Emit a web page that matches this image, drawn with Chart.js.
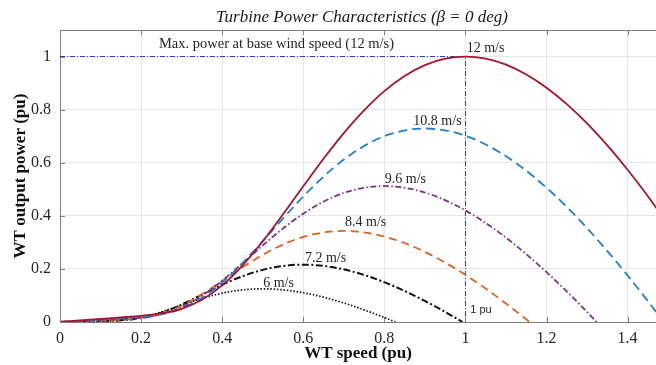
<!DOCTYPE html>
<html>
<head>
<meta charset="utf-8">
<script src="https://cdn.jsdelivr.net/npm/chart.js@4.4.0/dist/chart.umd.min.js"></script>
<style>
  html, body { margin: 0; padding: 0; background: #fff; }
</style>
</head>
<body>
<canvas id="chart" width="656" height="365"></canvas>
<script>
var xTickValues = [0, 0.2, 0.4, 0.6, 0.8, 1, 1.2, 1.4];
var yTickValues = [0, 0.2, 0.4, 0.6, 0.8, 1];

var speedNames = ['12 m/s', '10.8 m/s', '9.6 m/s', '8.4 m/s', '7.2 m/s', '6 m/s'];

var speed12X = [0, 0.05, 0.1, 0.15, 0.2, 0.25, 0.3, 0.35, 0.4, 0.45, 0.5, 0.55, 0.6, 0.65, 0.7, 0.75, 0.8, 0.85, 0.9, 0.95, 1, 1.05, 1.1, 1.15, 1.2, 1.25, 1.3, 1.35, 1.4, 1.45, 1.5];
var speed12Y = [0, 0.0057, 0.0115, 0.0172, 0.0233, 0.0321, 0.0498, 0.0837, 0.1379, 0.2127, 0.3040, 0.4056, 0.5114, 0.6151, 0.7118, 0.7973, 0.8697, 0.9270, 0.9678, 0.9920, 1.0000, 0.9920, 0.9694, 0.9326, 0.8827, 0.8208, 0.7479, 0.6651, 0.5734, 0.4736, 0.3667];

var speed108X = [0, 0.045, 0.09, 0.135, 0.18, 0.225, 0.27, 0.315, 0.36, 0.405, 0.45, 0.495, 0.54, 0.585, 0.63, 0.675, 0.72, 0.765, 0.81, 0.855, 0.9, 0.945, 0.99, 1.035, 1.08, 1.125, 1.17, 1.215, 1.26, 1.305, 1.35, 1.395, 1.44, 1.485, 1.489];
var speed108Y = [0, 0.0042, 0.0084, 0.0125, 0.0170, 0.0234, 0.0363, 0.0610, 0.1005, 0.1551, 0.2216, 0.2957, 0.3728, 0.4484, 0.5189, 0.5812, 0.6340, 0.6758, 0.7055, 0.7232, 0.7290, 0.7232, 0.7067, 0.6799, 0.6435, 0.5984, 0.5452, 0.4849, 0.4180, 0.3453, 0.2673, 0.1849, 0.0983, 0.0084, 0];

var speed96X = [0, 0.04, 0.08, 0.12, 0.16, 0.2, 0.24, 0.28, 0.32, 0.36, 0.4, 0.44, 0.48, 0.52, 0.56, 0.6, 0.64, 0.68, 0.72, 0.76, 0.8, 0.84, 0.88, 0.92, 0.96, 1, 1.04, 1.08, 1.12, 1.16, 1.2, 1.24, 1.28, 1.32, 1.3236];
var speed96Y = [0, 0.0029, 0.0059, 0.0088, 0.0119, 0.0164, 0.0255, 0.0428, 0.0706, 0.1089, 0.1556, 0.2077, 0.2618, 0.3149, 0.3644, 0.4082, 0.4453, 0.4746, 0.4955, 0.5079, 0.5120, 0.5079, 0.4963, 0.4775, 0.4519, 0.4202, 0.3829, 0.3405, 0.2936, 0.2425, 0.1878, 0.1298, 0.0691, 0.0059, 0];

var speed84X = [0, 0.035, 0.07, 0.105, 0.14, 0.175, 0.21, 0.245, 0.28, 0.315, 0.35, 0.385, 0.42, 0.455, 0.49, 0.525, 0.56, 0.595, 0.63, 0.665, 0.7, 0.735, 0.77, 0.805, 0.84, 0.875, 0.91, 0.945, 0.98, 1.015, 1.05, 1.085, 1.12, 1.155, 1.158];
var speed84Y = [0, 0.0020, 0.0039, 0.0059, 0.0080, 0.0110, 0.0171, 0.0287, 0.0473, 0.0730, 0.1043, 0.1391, 0.1754, 0.2110, 0.2441, 0.2735, 0.2983, 0.3180, 0.3320, 0.3403, 0.3430, 0.3403, 0.3325, 0.3199, 0.3028, 0.2815, 0.2565, 0.2281, 0.1967, 0.1624, 0.1258, 0.0870, 0.0463, 0.0039, 0];

var speed72X = [0, 0.03, 0.06, 0.09, 0.12, 0.15, 0.18, 0.21, 0.24, 0.27, 0.3, 0.33, 0.36, 0.39, 0.42, 0.45, 0.48, 0.51, 0.54, 0.57, 0.6, 0.63, 0.66, 0.69, 0.72, 0.75, 0.78, 0.81, 0.84, 0.87, 0.9, 0.93, 0.96, 0.99, 0.9927];
var speed72Y = [0, 0.0012, 0.0025, 0.0037, 0.0050, 0.0069, 0.0108, 0.0181, 0.0298, 0.0459, 0.0657, 0.0876, 0.1105, 0.1329, 0.1537, 0.1722, 0.1879, 0.2002, 0.2090, 0.2143, 0.2160, 0.2143, 0.2094, 0.2014, 0.1907, 0.1773, 0.1615, 0.1437, 0.1239, 0.1023, 0.0792, 0.0548, 0.0291, 0.0025, 0];

var speed6X = [0, 0.025, 0.05, 0.075, 0.1, 0.125, 0.15, 0.175, 0.2, 0.225, 0.25, 0.275, 0.3, 0.325, 0.35, 0.375, 0.4, 0.425, 0.45, 0.475, 0.5, 0.525, 0.55, 0.575, 0.6, 0.625, 0.65, 0.675, 0.7, 0.725, 0.75, 0.775, 0.8, 0.825, 0.827];
var speed6Y = [0, 0.0007, 0.0014, 0.0022, 0.0029, 0.0040, 0.0062, 0.0105, 0.0172, 0.0266, 0.0380, 0.0507, 0.0639, 0.0769, 0.0890, 0.0997, 0.1087, 0.1159, 0.1210, 0.1240, 0.1250, 0.1240, 0.1212, 0.1166, 0.1103, 0.1026, 0.0935, 0.0831, 0.0717, 0.0592, 0.0458, 0.0317, 0.0169, 0.0014, 0];

var refX = [0, 1, 1];
var refY = [1, 1, 0];

function toPoints (xs, ys) {
  var pts = [];
  for (let i = 0; i < xs.length; i++) {
    pts.push({ x: xs[i], y: ys[i] });
  }
  return pts;
}

function curve (name, xs, ys, color, dash, width) {
  return {
    label: name,
    data: toPoints(xs, ys),
    borderColor: color,
    borderWidth: width,
    borderDash: dash,
    pointRadius: 0,
    fill: false,
    cubicInterpolationMode: 'monotone'
  };
}

var serif = "'Liberation Serif', 'Times New Roman', serif";
var textColor = '#262626';
var axisColor = '#808080';

var annotationPlugin = {
  id: 'annotations',
  afterDatasetsDraw: function (chart) {
    const ctx = chart.ctx;
    const xs = chart.scales.x;
    const ys = chart.scales.y;
    const notes = [
      { text: 'Max. power at base wind speed (12 m/s)', x: 0.534, y: 1.045, align: 'center', font: '14.5px ' + serif },
      { text: speedNames[0], x: 1.003, y: 1.03, align: 'left', font: '14px ' + serif },
      { text: speedNames[1], x: 0.931, y: 0.755, align: 'center', font: '14px ' + serif },
      { text: speedNames[2], x: 0.852, y: 0.536, align: 'center', font: '14px ' + serif },
      { text: speedNames[3], x: 0.754, y: 0.374, align: 'center', font: '14px ' + serif },
      { text: speedNames[4], x: 0.655, y: 0.238, align: 'center', font: '14px ' + serif },
      { text: speedNames[5], x: 0.539, y: 0.147, align: 'center', font: '14px ' + serif },
      { text: '1 pu', x: 1.012, y: 0.045, align: 'left', font: "11px 'Liberation Sans', Arial, sans-serif" }
    ];
    ctx.save();
    ctx.fillStyle = textColor;
    ctx.textBaseline = 'middle';
    for (let i = 0; i < notes.length; i++) {
      ctx.font = notes[i].font;
      ctx.textAlign = notes[i].align;
      ctx.fillText(notes[i].text, xs.getPixelForValue(notes[i].x), ys.getPixelForValue(notes[i].y));
    }
    ctx.font = 'italic 17px ' + serif;
    ctx.textAlign = 'center';
    ctx.fillStyle = '#1a1a1a';
    ctx.fillText('Turbine Power Characteristics (\u03B2 = 0 deg)', xs.getPixelForValue(0.745), 18);
    ctx.restore();
  },
  afterDraw: function (chart) {
    const ctx = chart.ctx;
    const area = chart.chartArea;
    const xs = chart.scales.x;
    const ys = chart.scales.y;
    ctx.save();
    ctx.strokeStyle = axisColor;
    ctx.lineWidth = 1;
    ctx.beginPath();
    ctx.moveTo(area.left, area.top + 0.5);
    ctx.lineTo(area.right, area.top + 0.5);
    for (let i = 0; i < xTickValues.length; i++) {
      const px = Math.round(xs.getPixelForValue(xTickValues[i])) + 0.5;
      ctx.moveTo(px, area.bottom);
      ctx.lineTo(px, area.bottom - 5);
      ctx.moveTo(px, area.top);
      ctx.lineTo(px, area.top + 5);
    }
    for (let i = 0; i < yTickValues.length; i++) {
      const py = Math.round(ys.getPixelForValue(yTickValues[i])) + 0.5;
      ctx.moveTo(area.left, py);
      ctx.lineTo(area.left + 5, py);
    }
    ctx.stroke();
    ctx.restore();
  }
};

var ctx = document.getElementById('chart').getContext('2d');
var turbineChart = new Chart(ctx, {
  type: 'line',
  data: {
    datasets: [
      curve(speedNames[0], speed12X, speed12Y, '#A2142F', [], 1.8),
      curve(speedNames[1], speed108X, speed108Y, '#1F80CC', [9, 5], 1.8),
      curve(speedNames[2], speed96X, speed96Y, '#7E2F8E', [6, 2.5, 1.5, 2.5], 1.8),
      curve(speedNames[3], speed84X, speed84Y, '#E0601E', [8, 5], 1.8),
      curve(speedNames[4], speed72X, speed72Y, '#111111', [7, 2.5, 2, 2.5], 2),
      curve(speedNames[5], speed6X, speed6Y, '#111111', [1.5, 1.8], 1.7),
      {
        label: 'base',
        data: toPoints(refX, refY),
        borderColor: '#2638C8',
        borderWidth: 1,
        borderDash: [5, 2, 1, 2],
        pointRadius: 0,
        fill: false,
        tension: 0
      }
    ]
  },
  options: {
    responsive: false,
    animation: false,
    layout: { padding: { top: 30, right: 0, left: 0, bottom: 0 } },
    plugins: {
      legend: { display: false },
      tooltip: { enabled: false },
      title: { display: false }
    },
    scales: {
      x: {
        type: 'linear',
        min: 0,
        max: 1.47,
        afterBuildTicks: function (scale) {
          scale.ticks = xTickValues.map(function (v) { return { value: v }; });
        },
        afterFit: function (scale) { scale.height = 43; },
        ticks: {
          color: textColor,
          padding: 7,
          maxRotation: 0,
          font: { family: serif, size: 16 },
          callback: function (v) { return String(Math.round(v * 10) / 10); }
        },
        grid: { color: '#e6e6e6', drawTicks: false },
        border: { color: axisColor },
        title: {
          display: true,
          text: 'WT speed (pu)',
          color: '#111111',
          font: { family: serif, size: 17, weight: 'bold' },
          padding: { top: 0, bottom: 1 }
        }
      },
      y: {
        min: 0,
        max: 1.1,
        afterBuildTicks: function (scale) {
          scale.ticks = yTickValues.map(function (v) { return { value: v }; });
        },
        afterFit: function (scale) { scale.width = 60; },
        ticks: {
          color: textColor,
          padding: 9,
          font: { family: serif, size: 16 },
          callback: function (v) { return String(Math.round(v * 10) / 10); }
        },
        grid: { color: '#e6e6e6', drawTicks: false },
        border: { color: axisColor },
        title: {
          display: true,
          text: 'WT output power (pu)',
          color: '#111111',
          font: { family: serif, size: 17, weight: 'bold' },
          padding: { top: 10, bottom: 0 }
        }
      }
    }
  },
  plugins: [annotationPlugin]
});
</script>
</body>
</html>
